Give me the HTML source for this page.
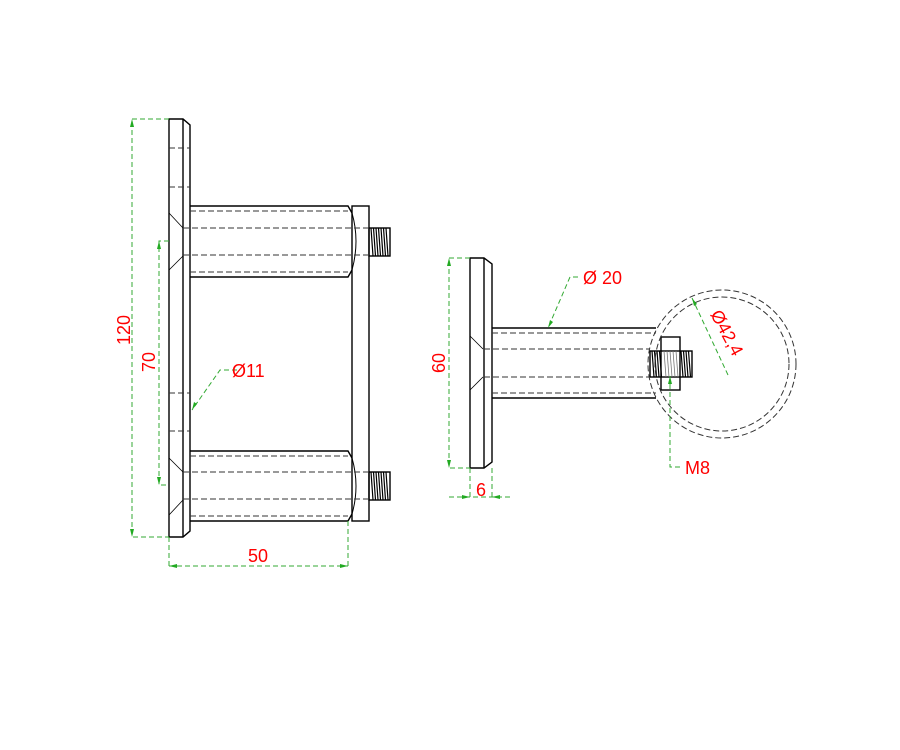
<!DOCTYPE html>
<html><head><style>
html,body{margin:0;padding:0;background:#fff;}
svg{display:block;}
text{font-family:"Liberation Sans",sans-serif;fill:#f00;font-size:18px;}
</style></head><body>
<svg width="900" height="750" viewBox="0 0 900 750" xmlns="http://www.w3.org/2000/svg">
<g fill="none" stroke="#000" stroke-width="1.4">
<path d="M169,119 H183 L190,125 V531 L183,537 H169 Z"/>
<line x1="183" y1="119" x2="183" y2="537"/>
<path d="M190,206 H348 L352,213 M190,277 H348 L352,270"/>
<path d="M352,213 Q360,241 352,270" stroke-width="1"/>
<rect x="352" y="206" width="17" height="315"/>
<path d="M190,451 H348 L352,458 M190,521 H348 L352,514"/>
<path d="M352,458 Q360,486 352,514" stroke-width="1"/>
<path d="M169,213 L183,228 M169,270 L183,256 M169,458 L183,472 M169,515 L183,500" stroke-width="0.8"/>
<rect x="369" y="228" width="21" height="28"/>
<rect x="369" y="472" width="21" height="28"/>
</g>
<g stroke="#000" stroke-width="1.2">
<path d="M371,228 l2,28 M373.5,228 l2,28 M376,228 l2,28 M378.5,228 l2,28 M381,228 l2,28 M383.5,228 l2,28 M386,228 l2,28"/>
<path d="M371,472 l2,28 M373.5,472 l2,28 M376,472 l2,28 M378.5,472 l2,28 M381,472 l2,28 M383.5,472 l2,28 M386,472 l2,28"/>
</g>
<g fill="none" stroke="#333" stroke-width="1" stroke-dasharray="6,3">
<path d="M169,148 H190 M169,187 H190 M169,393 H190 M169,431 H190"/>
<path d="M190,211 H348 M183,228 H369 M183,255 H369 M190,272 H348"/>
<path d="M190,456 H348 M183,472 H369 M183,499 H369 M190,516 H348"/>
</g>
<g fill="none" stroke="#000" stroke-width="1.4">
<path d="M470,258 H484 L492,264 V462 L484,468 H470 Z"/>
<line x1="484" y1="258" x2="484" y2="468"/>
<path d="M492,328 H656 M492,398 H656"/>
<rect x="661" y="337" width="19" height="53"/>
<rect x="650" y="351" width="42" height="26"/>
<path d="M470,336 L483,349 M470,390 L483,377" stroke-width="0.8"/>
</g>
<g stroke="#000" stroke-width="1.2">
<path d="M652,351 l2,26 M654.5,351 l2,26 M657,351 l2,26 M659.5,351 l2,26 M681,351 l2,26 M683.5,351 l2,26 M686,351 l2,26 M688.5,351 l2,26"/>
</g>
<g stroke="#777" stroke-width="0.8">
<path d="M664,351 l2,26 M667,351 l2,26 M670,351 l2,26 M673,351 l2,26 M676,351 l2,26"/>
</g>
<g fill="none" stroke="#333" stroke-width="1" stroke-dasharray="6,3">
<path d="M492,333 H656 M484,349 H650 M484,377 H650 M492,393 H656"/>
<circle cx="722" cy="364" r="74"/>
<circle cx="722" cy="364" r="67"/>
</g>
<g fill="none" stroke="#3a3" stroke-width="1" stroke-dasharray="5,3">
<path d="M169,119 H132 V537 H169"/>
<path d="M169,241 H159 V485 H169"/>
<path d="M169,537 V568 M348,521 V568 M169,566 H348"/>
<path d="M237,370 H220 L192,410"/>
<path d="M470,258 H449 V468 H470"/>
<path d="M470,468 V500 M492,468 V500 M449,497 H512"/>
<path d="M578,277 H570 L548,328"/>
<path d="M692,298 L728,375"/>
<path d="M670,376 V467 H680"/>
</g>
<g fill="#2a2">
<path d="M132,119 l-2,8 h4 Z M132,537 l-2,-8 h4 Z M159,241 l-2,8 h4 Z M159,485 l-2,-8 h4 Z"/>
<path d="M169,566 l8,-2 v4 Z M348,566 l-8,-2 v4 Z"/>
<path d="M449,258 l-2,8 h4 Z M449,468 l-2,-8 h4 Z M470,497 l-8,-2 v4 Z M492,497 l8,-2 v4 Z"/>
<path d="M192,410 l2,-8 l3,2 Z M548,328 l2,-8 l3,2 Z M692,298 l5,6 l-3,2 Z M670,376 l-2,8 h4 Z"/>
</g>
<text x="130" y="330" transform="rotate(-90 130 330)" text-anchor="middle">120</text>
<text x="155" y="362" transform="rotate(-90 155 362)" text-anchor="middle">70</text>
<text x="232" y="377">Ø11</text>
<text x="258" y="562" text-anchor="middle">50</text>
<text x="445" y="363" transform="rotate(-90 445 363)" text-anchor="middle">60</text>
<text x="481" y="496" text-anchor="middle">6</text>
<text x="583" y="284">Ø 20</text>
<text x="710" y="314" transform="rotate(62 710 314)">Ø42,4</text>
<text x="685" y="474">M8</text>
</svg>
</body></html>
